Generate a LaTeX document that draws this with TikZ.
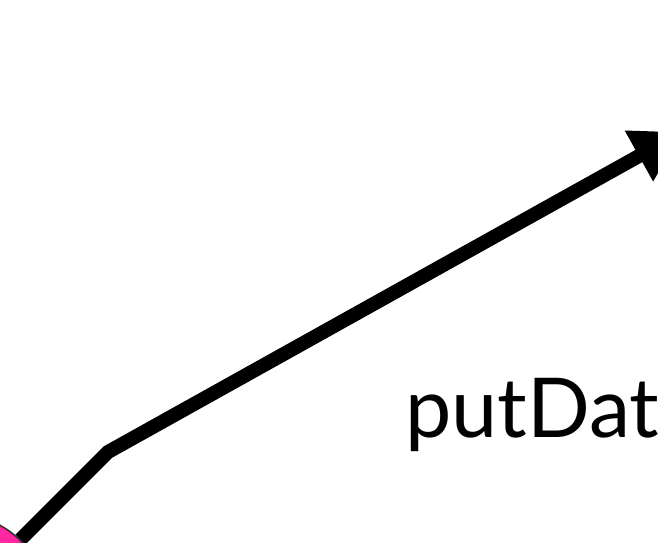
\documentclass[tikz,border=0pt]{standalone}
\usepackage{fontspec}
\setmainfont{Lato}
\usepackage{xcolor}
\usetikzlibrary{arrows.meta,positioning,calc}
\definecolor{hotpink}{RGB}{255,40,160}
\begin{document}
\begin{tikzpicture}[x=0.75pt,y=-0.75pt,>={Triangle[length=37pt,width=41pt]},
  msg/.style={line width=10.5pt,->},
  obj/.style={circle,draw=black!80,line width=1.2pt,fill=hotpink,minimum size=127pt,inner sep=0pt}]
\useasboundingbox (0,0) rectangle (658,543);
\node[obj] (src) at (-40,600) {};
\coordinate (bend) at (108,452);
\coordinate (dst) at (682,132);
\draw[msg] (src) -- (bend) -- (dst);
\node[anchor=base west,font=\fontsize{62}{70}\selectfont,inner sep=0pt] (lbl) at (405,437) {putData};
\end{tikzpicture}
\end{document}
